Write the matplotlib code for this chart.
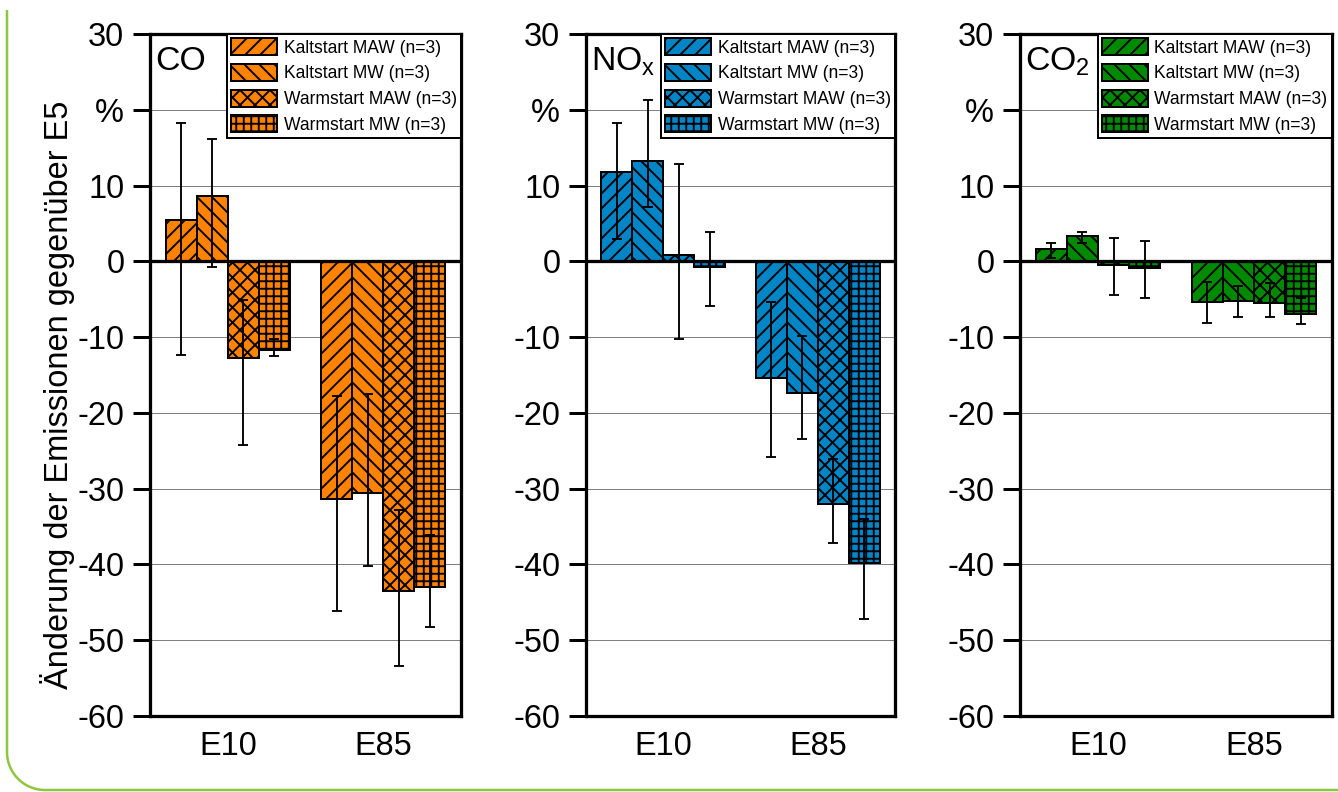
import numpy as np
import matplotlib
matplotlib.use('Agg')  # sin ventana
import matplotlib.pyplot as plt

plt.rcParams['font.family'] = ['Liberation Sans', 'DejaVu Sans']
plt.rcParams['mathtext.default'] = 'regular'
plt.rcParams['hatch.linewidth'] = 1.5

# Datos (Aenderung gegenueber E5 in %)
categorias = ['E10', 'E85']
series = ['Kaltstart MAW (n=3)', 'Kaltstart MW (n=3)',
          'Warmstart MAW (n=3)', 'Warmstart MW (n=3)']
y_ticks = [30, 20, 10, 0, -10, -20, -30, -40, -50, -60]
y_ticklabels = ['30', '%', '10', '0', '-10', '-20', '-30', '-40', '-50', '-60']

# cada fila: una serie, [E10, E85]
co_val = [[5.5, -31.3], [8.6, -30.6], [-12.7, -43.5], [-11.7, -43.0]]
co_hi = [[18.2, -17.8], [16.1, -17.5], [-5.1, -32.8], [-10.2, -36.1]]
co_lo = [[-12.3, -46.1], [-0.8, -40.2], [-24.3, -53.4], [-12.5, -48.2]]

nox_val = [[11.8, -15.4], [13.3, -17.4], [0.8, -32.0], [-0.75, -39.8]]
nox_hi = [[18.2, -5.4], [21.3, -9.8], [12.8, -26.1], [3.9, -34.0]]
nox_lo = [[3.0, -25.8], [7.2, -23.5], [-10.3, -37.2], [-5.9, -47.2]]

co2_val = [[1.6, -5.4], [3.4, -5.3], [-0.45, -5.5], [-0.9, -6.9]]
co2_hi = [[2.4, -2.7], [3.9, -3.3], [3.1, -2.8], [2.7, -4.9]]
co2_lo = [[0.4, -8.2], [2.4, -7.3], [-4.5, -7.3], [-4.8, -8.3]]

hatches = ['//', '\\\\', 'xx', '++']

DPI = 90
W, H = 1338, 792
fig = plt.figure(figsize=(W / DPI, H / DPI), dpi=DPI)


def ejes_px(x0, x1, y0, y1):
    return fig.add_axes([x0 / W, 1 - y1 / H, (x1 - x0) / W, (y1 - y0) / H])


# marco verde redondeado (izquierda y abajo)
fondo = fig.add_axes([0, 0, 1, 1], zorder=-1)
fondo.set_xlim(0, W)
fondo.set_ylim(H, 0)
fondo.axis('off')
t = np.linspace(0, np.pi / 2, 30)
r = 38
bx = np.concatenate([[7, 7], 7 + r - r * np.cos(t), [W]])
by = np.concatenate([[10, 790 - r], 790 - r + r * np.sin(t), [790]])
fondo.plot(bx, by, color='#8DC63F', lw=2.0, solid_capstyle='butt')

paneles = [
    (150, 461, 'CO', co_val, co_lo, co_hi, '#FF8200'),
    (586, 895, 'NO$_x$', nox_val, nox_lo, nox_hi, '#0085C6'),
    (1020, 1332, 'CO$_2$', co2_val, co2_lo, co2_hi, '#008A00'),
]

x = np.arange(len(categorias)) + 0.5
ancho = 0.2

for x0, x1, nombre, val, lo, hi, color in paneles:
    ax = ejes_px(x0, x1, 34, 716)
    for i in range(len(series)):
        v = np.array(val[i])
        yerr = [v - np.array(lo[i]), np.array(hi[i]) - v]
        pos = x + (i - 1.5) * ancho
        ax.bar(pos, v, ancho, color=color, edgecolor='black', linewidth=1.6,
               hatch=hatches[i], label=series[i], zorder=2)
        ax.errorbar(pos, v, yerr=yerr, fmt='none', ecolor='black',
                    elinewidth=1.5, capsize=4, capthick=1.5, zorder=3)
    ax.axhline(0, color='black', lw=2.6, zorder=4)
    ax.set_xlim(0, 2)
    ax.set_ylim(-60, 30)
    ax.set_yticks(y_ticks)
    ax.set_yticklabels(y_ticklabels)
    ax.yaxis.grid(True, color='#808080', lw=0.8)
    ax.set_axisbelow(True)
    ax.set_xticks(x)
    ax.set_xticklabels(categorias)
    ax.tick_params(axis='x', length=0, pad=12, labelsize=26)
    ax.tick_params(axis='y', length=13.6, width=2.4, direction='out',
                   pad=7, labelsize=26)
    for s in ax.spines.values():
        s.set_linewidth(2.6)
        s.set_zorder(5)
    ax.text(0.016, 0.947, nombre, transform=ax.transAxes, fontsize=27,
            va='baseline', ha='left')
    leg = ax.legend(loc='upper right', bbox_to_anchor=(1, 1), borderaxespad=0,
                    fontsize=14, fancybox=False, edgecolor='black',
                    framealpha=1, handlelength=2.6, handleheight=1.1,
                    handletextpad=0.4, labelspacing=0.42, borderpad=0.25)
    leg.get_frame().set_linewidth(1.6)
    leg.set_zorder(6)

fig.text(58 / W, 1 - 395 / H, 'Änderung der Emissionen gegenüber E5',
         rotation=90, va='center', ha='center', fontsize=26)

fig.savefig('out.png', dpi=DPI)
plt.close()
